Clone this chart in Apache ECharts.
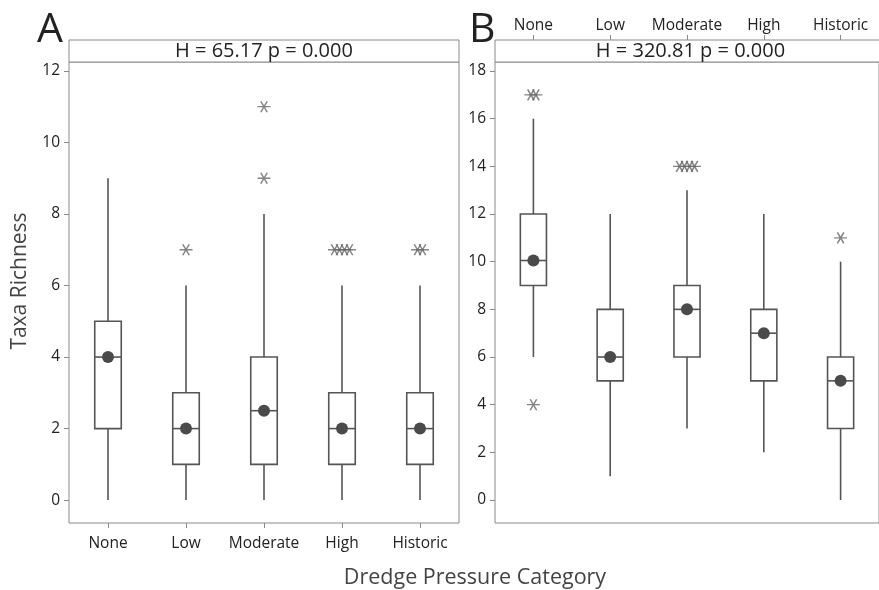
<!DOCTYPE html>
<html><head><meta charset="utf-8">
<script src="https://cdn.jsdelivr.net/npm/echarts@6/dist/echarts.min.js"></script>
<style>html,body{margin:0;padding:0;background:#fff}#c{width:879px;height:590px}</style>
</head><body><div id="c"></div>
<script>
const categories = ['None', 'Low', 'Moderate', 'High', 'Historic'];
// box summaries: [min whisker, Q1, median, Q3, max whisker]
const boxA = [[0, 2, 4, 5, 9], [0, 1, 2, 3, 6], [0, 1, 2.5, 4, 8], [0, 1, 2, 3, 6], [0, 1, 2, 3, 6]];
const boxB = [[6, 9, 10.05, 12, 16], [1, 5, 6, 8, 12], [3, 6, 8, 9, 13], [2, 5, 7, 8, 12], [0, 3, 5, 6, 10]];
// outliers: [category index, value, number of coincident points]
const outA = [[1, 7, 1], [2, 9, 1], [2, 11, 1], [3, 7, 4], [4, 7, 2]];
const outB = [[0, 17, 2], [0, 4, 1], [2, 14, 4], [4, 11, 1]];
const ticksA = [0, 2, 4, 6, 8, 10, 12];
const ticksB = [0, 2, 4, 6, 8, 10, 12, 14, 16, 18];
const statA = 'H = 65.17 p = 0.000';
const statB = 'H = 320.81 p = 0.000';
const panelLabels = ['A', 'B'];
const yTitle = 'Taxa Richness';
const xTitle = 'Dredge Pressure Category';

const FONT = '"Open Sans", "Noto Sans", sans-serif';
const frameC = '#8a8a8a', boxC = '#555555', dotC = '#4a4a4a', starC = '#666666', txtC = '#222222';
const GA = {left: 69, top: 62, width: 390, height: 461};
const GB = {left: 495, top: 62, width: 391, height: 461};
const HEAD = 22;

function boxRender(params, api) {
  const x = api.value(0);
  const v = [1, 2, 3, 4, 5].map(i => api.value(i));
  const p = v.map(val => api.coord([x, val]));
  const w = api.size([1, 0])[0] * 0.34;
  const cx = p[0][0];
  const ls = {stroke: boxC, lineWidth: 1.6, fill: null};
  return {
    type: 'group',
    children: [
      {type: 'line', shape: {x1: cx, y1: p[0][1], x2: cx, y2: p[1][1]}, style: ls},
      {type: 'line', shape: {x1: cx, y1: p[3][1], x2: cx, y2: p[4][1]}, style: ls},
      {type: 'rect', shape: {x: cx - w / 2, y: p[3][1], width: w, height: p[1][1] - p[3][1]}, style: {stroke: boxC, lineWidth: 1.6, fill: '#fff'}},
      {type: 'line', shape: {x1: cx - w / 2, y1: p[2][1], x2: cx + w / 2, y2: p[2][1]}, style: ls},
      {type: 'circle', shape: {cx: cx, cy: p[2][1], r: 6}, style: {fill: dotC}}
    ]
  };
}

function expandOut(list) {
  const pts = [];
  list.forEach(([c, val, n]) => {
    for (let k = 0; k < n; k++) {
      pts.push({value: [c, val], symbolOffset: [(k - (n - 1) / 2) * 5, 0]});
    }
  });
  return pts;
}

const star = 'path://M0,5L12,5M3,0L9,10M9,0L3,10';

function xAx(gi, pos) {
  return {
    type: 'category', gridIndex: gi, data: categories, position: pos,
    offset: pos === 'top' ? HEAD : 0,
    boundaryGap: true,
    axisLine: {show: false, onZero: false},
    axisTick: {show: true, alignWithLabel: true, length: 5, lineStyle: {color: frameC}},
    axisLabel: {color: txtC, fontFamily: FONT, fontSize: 15.5, margin: pos === 'top' ? 6 : 13, interval: 0},
    splitLine: {show: false}
  };
}
function yAx(gi, min, max, ticks) {
  return {
    type: 'value', gridIndex: gi, min: min, max: max,
    axisLine: {show: false, onZero: false},
    axisTick: {show: true, length: 5, lineStyle: {color: frameC}, customValues: ticks},
    axisLabel: {color: txtC, fontFamily: FONT, fontSize: 15.5, margin: 9, customValues: ticks},
    splitLine: {show: false}
  };
}

function header(g, text) {
  return [
    {type: 'rect', shape: {x: g.left, y: g.top - HEAD, width: g.width, height: HEAD}, style: {fill: '#fff', stroke: frameC, lineWidth: 1}, z: 10},
    {type: 'text', x: g.left + g.width / 2, y: g.top - HEAD / 2 + 0.5, style: {text: text, fill: txtC, font: '20px ' + FONT, textAlign: 'center', textVerticalAlign: 'middle'}, z: 11}
  ];
}

const chart = echarts.init(document.getElementById('c'), null, {renderer: 'canvas'});
chart.setOption({
  backgroundColor: '#fff',
  animation: false,
  grid: [
    Object.assign({show: true, borderColor: frameC, borderWidth: 1, backgroundColor: 'transparent'}, GA),
    Object.assign({show: true, borderColor: frameC, borderWidth: 1, backgroundColor: 'transparent'}, GB)
  ],
  xAxis: [xAx(0, 'bottom'), xAx(1, 'top')],
  yAxis: [yAx(0, -0.64, 12.25, ticksA), yAx(1, -0.965, 18.38, ticksB)],
  series: [
    {type: 'custom', xAxisIndex: 0, yAxisIndex: 0, renderItem: boxRender,
      data: boxA.map((b, i) => [i].concat(b)), encode: {x: 0, y: [1, 2, 3, 4, 5]}},
    {type: 'custom', xAxisIndex: 1, yAxisIndex: 1, renderItem: boxRender,
      data: boxB.map((b, i) => [i].concat(b)), encode: {x: 0, y: [1, 2, 3, 4, 5]}},
    {type: 'scatter', xAxisIndex: 0, yAxisIndex: 0, symbol: star, symbolSize: [13, 11],
      itemStyle: {color: 'rgba(0,0,0,0)', borderColor: starC, borderWidth: 1.4}, data: expandOut(outA)},
    {type: 'scatter', xAxisIndex: 1, yAxisIndex: 1, symbol: star, symbolSize: [13, 11],
      itemStyle: {color: 'rgba(0,0,0,0)', borderColor: starC, borderWidth: 1.4}, data: expandOut(outB)}
  ],
  graphic: [].concat(
    header(GA, statA), header(GB, statB),
    [
      {type: 'text', x: 37, y: 51, style: {text: panelLabels[0], fill: txtC, font: '41px ' + FONT, textAlign: 'left', textVerticalAlign: 'bottom'}},
      {type: 'text', x: 469, y: 51, style: {text: panelLabels[1], fill: txtC, font: '41px ' + FONT, textAlign: 'left', textVerticalAlign: 'bottom'}},
      {type: 'text', x: 20, y: 281, rotation: Math.PI / 2, style: {text: yTitle, fill: '#444', font: '21px ' + FONT, textAlign: 'center', textVerticalAlign: 'middle'}},
      {type: 'text', x: 475, y: 578, style: {text: xTitle, fill: '#444', font: '21.5px ' + FONT, textAlign: 'center', textVerticalAlign: 'middle'}}
    ]
  )
});
</script>
</body></html>
